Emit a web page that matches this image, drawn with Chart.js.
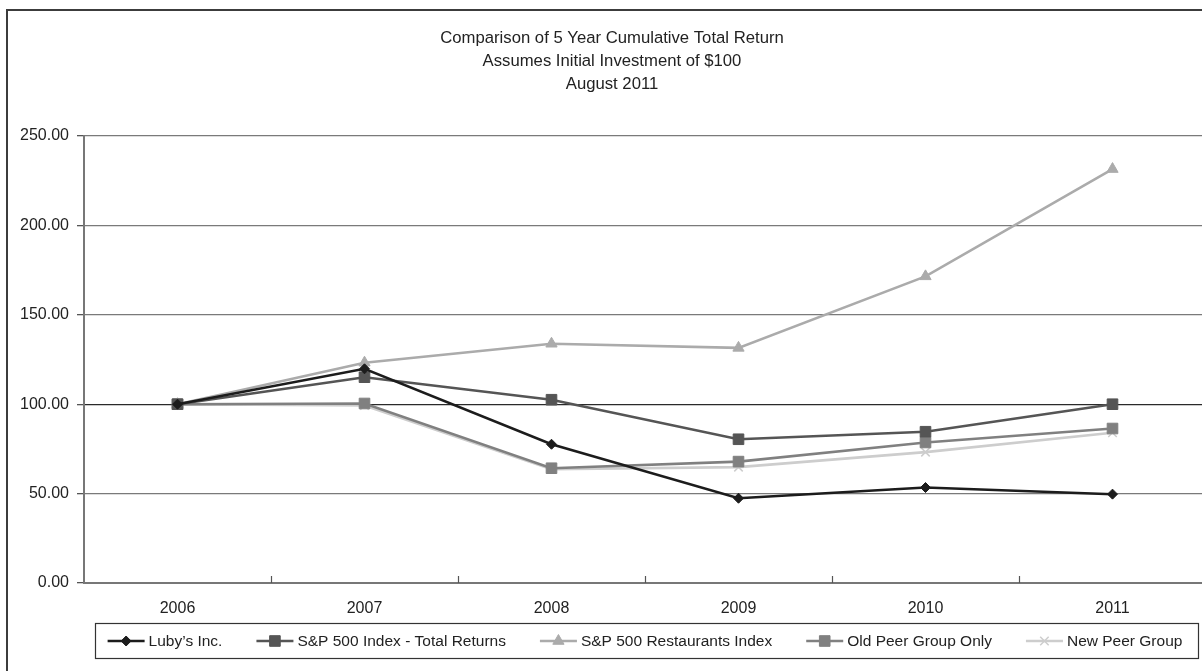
<!DOCTYPE html>
<html>
<head>
<meta charset="utf-8">
<script src="https://cdn.jsdelivr.net/npm/chart.js@4.4.1/dist/chart.umd.min.js"></script>
<style>
  html, body { margin: 0; padding: 0; background: #fff; overflow: hidden; }
  /* outer frame runs past the right and bottom edge, like the cropped scan */
  #frame { position: absolute; left: 6px; top: 9px; width: 1208px; height: 680px; border: 2px solid #3c3c3c; }
  canvas { display: block; }
</style>
</head>
<body>
<div id="frame"><canvas id="returnsChart" width="1208" height="680"></canvas></div>
<script>
// Chart data
const years = ['2006', '2007', '2008', '2009', '2010', '2011'];
const lubys = [100, 119.8, 77.6, 47.4, 53.4, 49.7];
const spTotalReturns = [100, 115.1, 102.5, 80.4, 84.6, 100.0];
const spRestaurants = [100, 123.2, 133.8, 131.5, 171.5, 231.5];
const oldPeerGroup = [100, 100.4, 64.2, 67.9, 78.6, 86.4];
const newPeerGroup = [100, 99.3, 63.6, 64.8, 73.2, 84.0];
const yTicks = [0, 50, 100, 150, 200, 250];
const titleLines = [
    'Comparison of 5 Year Cumulative Total Return',
    'Assumes Initial Investment of $100',
    'August 2011'
];

const FONT = '"Liberation Sans", Arial, Helvetica, sans-serif';
const TEXT = '#222';

function series(label, data, color, style, radius, width) {
    return {
        label: label,
        data: data,
        borderColor: color,
        backgroundColor: color,
        borderWidth: width,
        pointStyle: style,
        pointRadius: radius,
        pointHoverRadius: radius,
        pointBackgroundColor: color,
        pointBorderColor: color,
        pointBorderWidth: style === 'crossRot' ? 1.5 : 1,
        tension: 0,
        fill: false
    };
}

// Three-line title centred on the whole frame (not just the plot)
const frameTitle = {
    id: 'frameTitle',
    afterDraw(chart) {
        const { ctx } = chart;
        ctx.save();
        ctx.font = '16.7px ' + FONT;
        ctx.fillStyle = TEXT;
        ctx.textAlign = 'center';
        ctx.textBaseline = 'middle';
        titleLines.forEach((line, i) => ctx.fillText(line, chart.width / 2, 27 + i * 23));
        ctx.restore();
    }
};

// Small inward tick marks between the year categories
const categoryTicks = {
    id: 'categoryTicks',
    afterDraw(chart) {
        const { ctx, chartArea } = chart;
        const xs = chart.scales.x;
        ctx.save();
        ctx.strokeStyle = '#555';
        ctx.lineWidth = 1.2;
        for (let i = 1; i < years.length; i++) {
            const x = Math.round((xs.getPixelForValue(i - 1) + xs.getPixelForValue(i)) / 2) + 0.5;
            ctx.beginPath();
            ctx.moveTo(x, chartArea.bottom);
            ctx.lineTo(x, chartArea.bottom - 7);
            ctx.stroke();
        }
        ctx.restore();
    }
};

// Excel-style boxed legend: line with marker, then label
const boxedLegend = {
    id: 'boxedLegend',
    afterDraw(chart) {
        const { ctx, chartArea } = chart;
        const symbolW = 37, textGap = 4, itemGap = 34;
        const datasets = chart.data.datasets;
        ctx.save();
        ctx.font = '15.5px ' + FONT;
        const widths = datasets.map(ds => symbolW + textGap + ctx.measureText(ds.label).width);
        const total = widths.reduce((a, b) => a + b, 0) + itemGap * (widths.length - 1);
        let x = (chartArea.left + chartArea.right) / 2 - total / 2;
        const cy = chartArea.bottom + 58;

        ctx.strokeStyle = '#333';
        ctx.lineWidth = 1.2;
        ctx.strokeRect(Math.round(x - 13) + 0.5, Math.round(cy - 18) + 0.5, Math.round(total + 28), 35);

        datasets.forEach((ds, i) => {
            ctx.strokeStyle = ds.borderColor;
            ctx.lineWidth = ds.borderWidth;
            ctx.beginPath();
            ctx.moveTo(x, cy);
            ctx.lineTo(x + symbolW, cy);
            ctx.stroke();

            ctx.fillStyle = ds.pointBackgroundColor;
            ctx.strokeStyle = ds.pointBorderColor;
            ctx.lineWidth = ds.pointBorderWidth;
            Chart.helpers.drawPoint(ctx, {
                pointStyle: ds.pointStyle,
                radius: ds.pointRadius,
                rotation: 0,
                borderWidth: ds.pointBorderWidth
            }, x + symbolW / 2, cy);

            ctx.fillStyle = TEXT;
            ctx.textAlign = 'left';
            ctx.textBaseline = 'middle';
            ctx.fillText(ds.label, x + symbolW + textGap, cy + 1);
            x += widths[i] + itemGap;
        });
        ctx.restore();
    }
};

new Chart(document.getElementById('returnsChart'), {
    type: 'line',
    data: {
        labels: years,
        datasets: [
            series("Luby\u2019s Inc.", lubys, '#1c1c1c', 'rectRot', 5, 2.5),
            series('S&P 500 Index - Total Returns', spTotalReturns, '#555555', 'rect', 7.5, 2.6),
            series('S&P 500 Restaurants Index', spRestaurants, '#ababab', 'triangle', 6.5, 2.6),
            series('Old Peer Group Only', oldPeerGroup, '#808080', 'rect', 7.5, 2.6),
            series('New Peer Group', newPeerGroup, '#cdcdcd', 'crossRot', 6, 2.6)
        ]
    },
    options: {
        responsive: false,
        animation: false,
        devicePixelRatio: 1,
        layout: { padding: { top: 125, left: 0, right: 10, bottom: 68 } },
        plugins: {
            legend: { display: false },
            title: { display: false },
            tooltip: { enabled: false }
        },
        scales: {
            x: {
                offset: true,
                grid: { display: false, drawTicks: false },
                border: { display: true, color: '#777', width: 2 },
                ticks: { color: TEXT, padding: 16, font: { family: FONT, size: 16 } },
                afterFit(scale) { scale.height = 40; }
            },
            y: {
                min: 0,
                max: 250,
                afterBuildTicks(scale) { scale.ticks = yTicks.map(v => ({ value: v })); },
                grid: {
                    color: c => (c.tick && c.tick.value === 100 ? '#2a2a2a' : '#7a7a7a'),
                    lineWidth: 1.3,
                    tickLength: 7,
                    tickColor: '#555'
                },
                border: { display: true, color: '#777', width: 2 },
                ticks: {
                    color: TEXT,
                    padding: 8,
                    font: { family: FONT, size: 16 },
                    callback: v => Number(v).toFixed(2)
                },
                afterFit(scale) { scale.width = 76; }
            }
        }
    },
    plugins: [frameTitle, categoryTicks, boxedLegend]
});
</script>
</body>
</html>
